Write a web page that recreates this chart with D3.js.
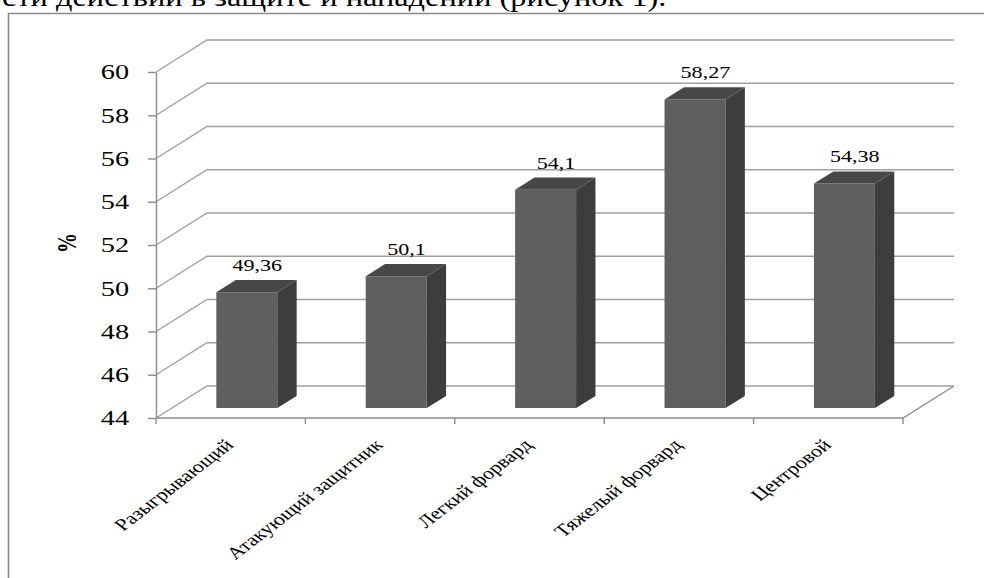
<!DOCTYPE html>
<html>
<head>
<meta charset="utf-8">
<script src="https://cdn.jsdelivr.net/npm/d3@7/dist/d3.min.js"></script>
<style>
  html, body { margin: 0; padding: 0; background: #fff; }
  svg { display: block; }
  svg text { font-family: 'Liberation Serif', 'Times New Roman', Times, 'DejaVu Serif', serif; fill: #000; }
</style>
</head>
<body>
<svg id="chart" width="984" height="578"></svg>
<script>
// Share of effective actions by player position, %
const categories = ["Разыгрывающий", "Атакующий защитник", "Легкий форвард", "Тяжелый форвард", "Центровой"];
const values = [49.36, 50.1, 54.1, 58.27, 54.38];
const yTicks = [44, 46, 48, 50, 52, 54, 56, 58, 60];
const yTitle = "%";
const pageText = "ости действий в защите и нападении (рисунок 1).";

const FONT = "'Liberation Serif', 'Times New Roman', Times, 'DejaVu Serif', serif";

const svg = d3.select("#chart");
const W = 984, H = 578;

// horizontal stretch of the typography
const SX = 1.38;

// plot area (front plane) and depth offset of the 3D box
const left = 156, right = 903, floorY = 418, topY = 72;
const DX = 51, DY = -32;
// depth span of the bars inside the box, and their width share of each band
const d0 = 0.31, d1 = 0.69, u0 = 0.298, u1 = 0.706;

const x = d3.scaleBand().domain(categories).range([left, right]).padding(0);
const y = d3.scaleLinear().domain([44, 60]).range([floorY, topY]);
const bw = x.bandwidth();

const gridColor = "#a0a0a0", axisColor = "#8c8c8c";

// page text above the chart frame
svg.append("text")
  .attr("transform", `translate(-15,6) scale(1.2,1)`)
  .style("font-family", FONT)
  .attr("font-size", 27)
  .text(pageText);

// chart frame
svg.append("path")
  .attr("d", `M8.5,${H} V13.5 H${W}`)
  .attr("fill", "none")
  .attr("stroke", "#8a8a8a")
  .attr("stroke-width", 1.6);

// side wall diagonals and back wall gridlines
const grid = svg.append("g").attr("fill", "none").attr("stroke", gridColor).attr("stroke-width", 1.4);
grid.selectAll("path.grid").data(yTicks).join("path")
  .attr("class", "grid")
  .attr("d", t => `M${left},${y(t)} L${left + DX},${y(t) + DY} H${right + DX}`);

// floor: front edge and right edge
grid.append("path")
  .attr("d", `M${left},${floorY} H${right} L${right + DX},${floorY + DY}`)
  .attr("stroke", axisColor);

// category boundary ticks
const bounds = categories.map(c => x(c)).concat([right]);
svg.append("g").selectAll("line").data(bounds).join("line")
  .attr("x1", d => d).attr("x2", d => d)
  .attr("y1", floorY).attr("y2", floorY + 6)
  .attr("stroke", axisColor).attr("stroke-width", 1.4);

// value axis
const yAxis = svg.append("g")
  .attr("transform", `translate(${left},0)`)
  .call(d3.axisLeft(y).tickValues(yTicks).tickSize(8).tickSizeOuter(0));
yAxis.attr("font-family", null);
yAxis.select(".domain").attr("stroke", axisColor).attr("stroke-width", 1.4);
yAxis.selectAll(".tick line").attr("stroke", axisColor).attr("stroke-width", 1.4);
yAxis.selectAll(".tick text")
  .style("font-family", FONT)
  .attr("font-size", 20.5)
  .attr("fill", "#000")
  .attr("transform", `scale(${SX},1)`)
  .attr("x", -27 / SX)
  .attr("dy", "0.34em");

// axis title
svg.append("text")
  .attr("transform", `translate(76,243) scale(${SX},1) rotate(-90)`)
  .attr("text-anchor", "middle")
  .style("font-family", FONT)
  .attr("font-size", 20)
  .attr("font-weight", "bold")
  .text(yTitle);

// 3D bars
const px = (c, u, d) => x(c) + u * bw + d * DX;
const bars = svg.append("g").selectAll("g").data(categories.map((c, i) => ({ c, v: values[i] }))).join("g");

// front face
bars.append("path")
  .attr("fill", "#5f5f5f")
  .attr("d", d => {
    const yt = y(d.v) + d0 * DY, yb = y(44) + d0 * DY;
    return `M${px(d.c, u0, d0)},${yb} V${yt} H${px(d.c, u1, d0)} V${yb} Z`;
  });
// right side face
bars.append("path")
  .attr("fill", "#3d3d3d")
  .attr("d", d => {
    const xa = px(d.c, u1, d0), xb = px(d.c, u1, d1);
    return `M${xa},${y(44) + d0 * DY} V${y(d.v) + d0 * DY} L${xb},${y(d.v) + d1 * DY} V${y(44) + d1 * DY} Z`;
  });
// top face
bars.append("path")
  .attr("fill", "#474747")
  .attr("d", d => {
    const ya = y(d.v) + d0 * DY, yb = y(d.v) + d1 * DY;
    return `M${px(d.c, u0, d0)},${ya} H${px(d.c, u1, d0)} L${px(d.c, u1, d1)},${yb} H${px(d.c, u0, d1)} Z`;
  });

// value labels
bars.append("text")
  .attr("transform", d => `translate(${x(d.c) + bw / 2 + 0.5 * DX + 1},${y(d.v) + d1 * DY - 9}) scale(${SX},1)`)
  .attr("text-anchor", "middle")
  .style("font-family", FONT)
  .attr("font-size", 16)
  .text(d => String(d.v).replace(".", ","));

// category labels, slanted
svg.append("g").selectAll("text").data(categories).join("text")
  .attr("transform", c => `translate(${x(c) + bw / 2 + 4},446) scale(1.3,1) rotate(-45)`)
  .attr("text-anchor", "end")
  .style("font-family", FONT)
  .attr("font-size", 17)
  .text(c => c);
</script>
</body>
</html>
